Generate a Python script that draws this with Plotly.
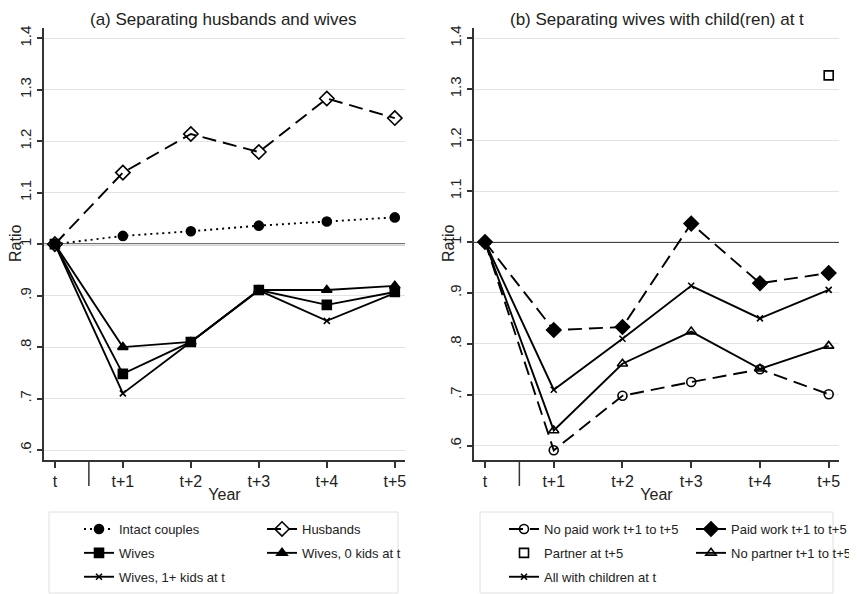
import plotly.graph_objects as go

# ---------------- data ----------------
years = [0, 1, 2, 3, 4, 5]
year_labels = ["t", "t+1", "t+2", "t+3", "t+4", "t+5"]
ytick_vals = [0.6, 0.7, 0.8, 0.9, 1.0, 1.1, 1.2, 1.3, 1.4]
ytick_text = [".6", ".7", ".8", ".9", "1", "1.1", "1.2", "1.3", "1.4"]

# panel (a)
intact_couples = [1.0, 1.016, 1.025, 1.036, 1.044, 1.052]
husbands = [1.0, 1.139, 1.214, 1.179, 1.283, 1.245]
wives = [1.0, 0.748, 0.810, 0.911, 0.882, 0.907]
wives_0_kids = [1.0, 0.800, 0.810, 0.911, 0.911, 0.919]
wives_1_kids = [1.0, 0.710, 0.810, 0.910, 0.851, 0.905]

# panel (b)
no_paid_work = [1.0, 0.591, 0.698, 0.725, 0.750, 0.701]
paid_work = [1.0, 0.827, 0.833, 1.036, 0.919, 0.939]
partner_t5 = [None, None, None, None, None, 1.327]
no_partner = [1.0, 0.630, 0.761, 0.824, 0.751, 0.796]
all_children = [1.0, 0.710, 0.810, 0.914, 0.850, 0.906]

FONT = "Liberation Sans, Arial, sans-serif"
BLACK = "#000000"
TXT = "#222222"

# figure sits 8px in from the page corner (default body margin)
OFF = 8
W, H = 857 - OFF, 594 - OFF


def px(x):
    return (x - OFF) / W


def py(y):
    return 1 - (y - OFF) / H


fig = go.Figure()


def add(y, name, xa, ya, legend, dash, symbol, size, mode="lines+markers", width=1.9):
    fig.add_trace(go.Scatter(
        x=years, y=y, name=name, xaxis=xa, yaxis=ya, legend=legend, legendgroup=name,
        mode=mode,
        line=dict(color=BLACK, width=width, dash=dash),
        marker=dict(symbol=symbol, size=size, color=BLACK,
                    line=dict(color=BLACK, width=1.6)),
    ))


# panel (a)  (legend = column 1, legend3 = column 2)
add(intact_couples, "Intact couples", "x", "y", "legend", "2px,4px", "circle", 9)
add(husbands, "Husbands", "x", "y", "legend3", "14px,7px", "diamond-open", 11)
add(wives, "Wives", "x", "y", "legend", "solid", "square", 9)
add(wives_0_kids, "Wives, 0 kids at t", "x", "y", "legend3", "solid", "triangle-up", 9)
add(wives_1_kids, "Wives, 1+ kids at t", "x", "y", "legend", "solid", "x-thin-open", 6)

# panel (b)  (legend2 = column 1, legend4 = column 2)
add(no_paid_work, "No paid work t+1 to t+5", "x2", "y2", "legend2", "14px,7px", "circle-open", 9)
add(paid_work, "Paid work t+1 to t+5", "x2", "y2", "legend4", "14px,7px", "diamond", 11)
add(partner_t5, "Partner at t+5", "x2", "y2", "legend2", "solid", "square-open", 9, mode="markers")
add(no_partner, "No partner t+1 to t+5", "x2", "y2", "legend4", "solid", "triangle-up-open", 9)
add(all_children, "All with children at t", "x2", "y2", "legend2", "solid", "x-thin-open", 6)

ydom = [py(460), py(28)]
xcommon = dict(
    tickmode="array", tickvals=years, ticktext=year_labels,
    range=[-0.16, 5.15], showgrid=False, zeroline=False,
    showline=True, linecolor="#333333", linewidth=1.5,
    ticks="outside", ticklen=6, tickwidth=1.5, tickcolor="#333333",
    tickfont=dict(family=FONT, size=16, color=TXT),
    title=dict(text="Year", font=dict(family=FONT, size=16, color=TXT), standoff=0),
)
ycommon = dict(
    tickmode="array", tickvals=ytick_vals, ticktext=ytick_text,
    tickangle=-90, showgrid=True, gridcolor="#e3e3e3", gridwidth=1.2,
    zeroline=False, showline=True, linecolor="#333333", linewidth=1.5,
    ticks="outside", ticklen=5, tickwidth=1.5, tickcolor="#333333",
    tickfont=dict(family=FONT, size=15, color=TXT),
    domain=ydom,
)

legend_common = dict(
    orientation="v", xanchor="left", yanchor="top",
    borderwidth=0, bgcolor="rgba(0,0,0,0)",
    font=dict(family=FONT, size=13, color=TXT),
    traceorder="grouped", tracegroupgap=4,
)
LEG_Y = py(514)

fig.update_layout(
    width=W, height=H,
    margin=dict(l=0, r=0, t=0, b=0, autoexpand=False),
    paper_bgcolor="white", plot_bgcolor="white",
    font=dict(family=FONT, color=TXT),
    xaxis=dict(domain=[px(44), px(405)], anchor="y", **xcommon),
    yaxis=dict(anchor="x", range=[0.5806, 1.42], **ycommon),
    xaxis2=dict(domain=[px(474), px(839)], anchor="y2", **xcommon),
    yaxis2=dict(anchor="x2", range=[0.572, 1.42], **ycommon),
    legend=dict(x=px(79), y=LEG_Y, **legend_common),
    legend3=dict(x=px(262), y=LEG_Y, **legend_common),
    legend2=dict(x=px(504), y=LEG_Y, **legend_common),
    legend4=dict(x=px(691), y=LEG_Y, **legend_common),
    showlegend=True,
)

# reference line at ratio 1 and separators after t
for xa, ya in (("x", "y"), ("x2", "y2")):
    fig.add_shape(type="line", xref=xa + " domain", yref=ya, x0=0, x1=1, y0=1.0, y1=1.0,
                  line=dict(color="#444444", width=2), layer="below")
    fig.add_shape(type="line", xref=xa, yref="paper", x0=0.5, x1=0.5,
                  y0=py(460), y1=py(486),
                  line=dict(color="#333333", width=1.5))

# legend frames
for x0, x1 in ((49, 398), (480, 833)):
    fig.add_shape(type="rect", xref="paper", yref="paper", x0=px(x0), x1=px(x1),
                  y0=py(593), y1=py(512),
                  line=dict(color="#e0e0e0", width=1), fillcolor="rgba(0,0,0,0)", layer="below")

# panel titles
fig.add_annotation(text="(a) Separating husbands and wives", x=px(224), y=1.0,
                   xref="paper", yref="paper", showarrow=False, xanchor="center", yanchor="top",
                   font=dict(family=FONT, size=17, color=TXT))
fig.add_annotation(text="(b) Separating wives with child(ren) at t", x=px(657), y=1.0,
                   xref="paper", yref="paper", showarrow=False, xanchor="center", yanchor="top",
                   font=dict(family=FONT, size=17, color=TXT))
# y titles
for xp in (15, 448):
    fig.add_annotation(text="Ratio", x=px(xp), y=py(244), xref="paper", yref="paper",
                       showarrow=False, textangle=-90, xanchor="center", yanchor="middle",
                       font=dict(family=FONT, size=16, color=TXT))

fig.write_html("out.html")
